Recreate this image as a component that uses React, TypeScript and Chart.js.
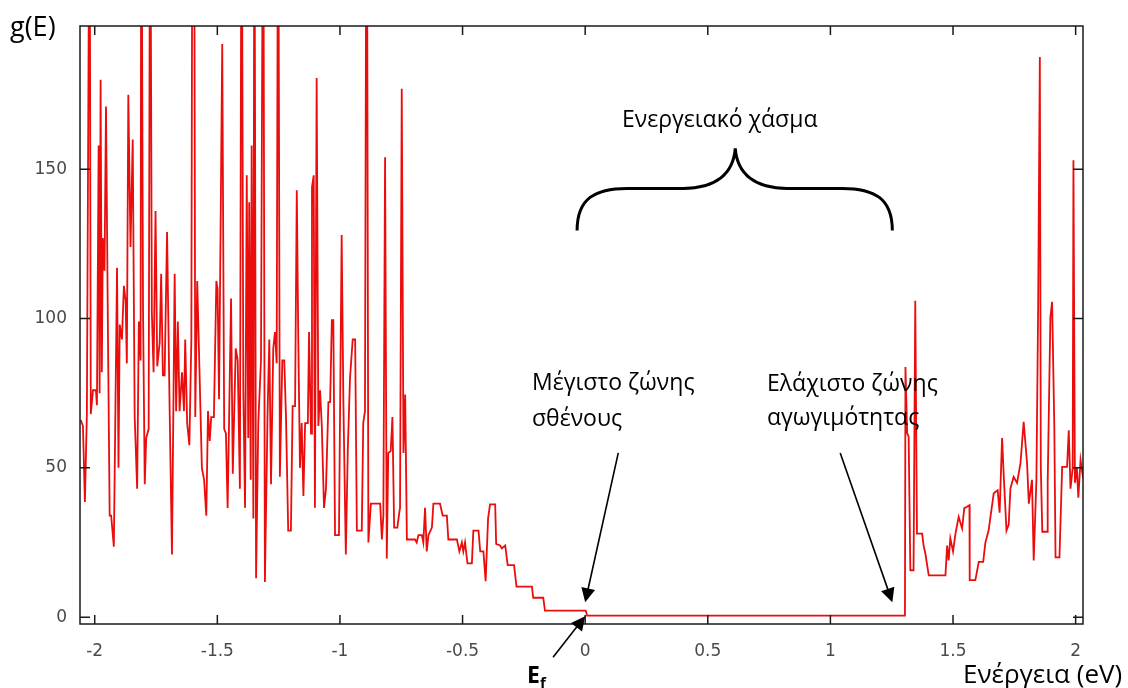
import React, { useEffect, useRef } from 'react';
import { Chart, registerables } from 'chart.js';

Chart.register(...registerables);

// Energy (eV) of each sampled point of the density of states
const energies = [
  -2.057, -2.048, -2.040, -2.032, -2.021, -2.016, -2.007, -1.995, -1.991, -1.984,
  -1.980, -1.976, -1.971, -1.967, -1.960, -1.954, -1.946, -1.939, -1.933, -1.922,
  -1.909, -1.903, -1.898, -1.889, -1.881, -1.874, -1.869, -1.863, -1.854, -1.845,
  -1.837, -1.827, -1.820, -1.813, -1.810, -1.803, -1.796, -1.790, -1.780, -1.774,
  -1.767, -1.760, -1.752, -1.745, -1.735, -1.729, -1.722, -1.715, -1.705, -1.694,
  -1.685, -1.674, -1.668, -1.661, -1.654, -1.644, -1.636, -1.631, -1.623, -1.614,
  -1.606, -1.601, -1.595, -1.590, -1.582, -1.572, -1.563, -1.554, -1.545, -1.538,
  -1.531, -1.525, -1.514, -1.504, -1.499, -1.493, -1.480, -1.472, -1.465, -1.458,
  -1.444, -1.437, -1.425, -1.417, -1.408, -1.401, -1.394, -1.387, -1.380, -1.374,
  -1.370, -1.364, -1.360, -1.353, -1.349, -1.342, -1.333, -1.322, -1.313, -1.306,
  -1.295, -1.288, -1.281, -1.272, -1.265, -1.258, -1.252, -1.245, -1.235, -1.227,
  -1.220, -1.211, -1.200, -1.193, -1.183, -1.176, -1.170, -1.163, -1.156, -1.149,
  -1.142, -1.131, -1.126, -1.118, -1.114, -1.107, -1.102, -1.095, -1.088, -1.081,
  -1.074, -1.065, -1.057, -1.047, -1.040, -1.033, -1.027, -1.020, -1.004, -0.993,
  -0.986, -0.976, -0.968, -0.959, -0.948, -0.938, -0.931, -0.911, -0.905, -0.898,
  -0.891, -0.884, -0.874, -0.836, -0.829, -0.823, -0.816, -0.809, -0.803, -0.793,
  -0.786, -0.779, -0.766, -0.758, -0.755, -0.748, -0.741, -0.734, -0.727, -0.694,
  -0.687, -0.680, -0.666, -0.660, -0.653, -0.646, -0.639, -0.625, -0.619, -0.592,
  -0.581, -0.564, -0.558, -0.523, -0.513, -0.503, -0.497, -0.490, -0.480, -0.462,
  -0.456, -0.435, -0.428, -0.415, -0.406, -0.396, -0.388, -0.367, -0.363, -0.347,
  -0.340, -0.326, -0.316, -0.290, -0.280, -0.217, -0.212, -0.171, -0.164, 0.002,
  0.008, 1.304,
  1.306, 1.313, 1.319, 1.326, 1.339, 1.346, 1.353, 1.374, 1.380, 1.387,
  1.401, 1.469, 1.476, 1.482, 1.489, 1.500, 1.510, 1.523, 1.537, 1.546,
  1.557, 1.567, 1.568, 1.591, 1.605, 1.623, 1.632, 1.645, 1.666, 1.682,
  1.690, 1.700, 1.707, 1.718, 1.727, 1.734, 1.747, 1.761, 1.775, 1.788,
  1.802, 1.809, 1.822, 1.829, 1.840, 1.847, 1.854, 1.858, 1.864, 1.884,
  1.886, 1.897, 1.904, 1.913, 1.918, 1.934, 1.945, 1.965, 1.972, 1.979,
  1.988, 1.991, 1.997, 2.005, 2.011, 2.020, 2.028, 2.036,
];

// g(E) at each energy above
const dos = [
  66, 64, 38.6, 68, 260, 68, 76, 76, 71, 158,
  75, 180, 82, 127, 116, 171, 95, 34, 34, 23.6,
  117, 50, 98, 93, 111, 106, 85, 175, 124, 160,
  67, 43, 99, 86, 270, 103, 44.5, 60, 63, 270,
  102, 82, 136, 84, 92, 115, 81, 81, 129, 67,
  21, 115, 69, 99, 69, 82, 69, 93, 65, 57.6,
  93, 280, 280, 67, 112.6, 80, 50, 46, 34, 69,
  59, 67, 67, 112.6, 110, 73, 192, 63, 61.5, 36.6,
  106.7, 48, 90, 86, 43, 270, 76, 36.6, 148, 60,
  139, 46, 158, 33, 270, 13, 65, 86, 270, 11.8,
  69, 93, 44.5, 90, 95.5, 85, 270, 47, 86, 86,
  67, 29, 29, 70.7, 70.7, 143, 94, 50, 65, 40.6,
  65, 65, 95.5, 61.5, 144, 148, 36.6, 180.6, 64, 76,
  64, 36.6, 43, 72, 72, 99.5, 99.5, 27.5, 27.5, 128,
  72, 21, 56, 80, 93, 93, 29, 29, 65, 69,
  290, 25, 38, 38, 26, 34, 154, 19.6, 55, 55.6,
  67, 30, 30, 35, 36.6, 177, 55, 74.6, 26, 26,
  25, 27.5, 27.5, 25, 36.6, 22, 27.5, 30, 38, 38,
  34, 34, 26, 26, 22, 25, 22, 25, 18, 18,
  29, 29, 22, 22, 12, 33, 37.8, 37.8, 24.5, 24,
  23, 24, 17.4, 17.4, 10.2, 10.2, 6.5, 6.5, 2.2, 2.2,
  0.5, 0.5,
  83.8, 61.6, 60.5, 15.7, 15.7, 106, 28, 28, 24, 21.4,
  14, 14, 24, 19, 26.4, 22, 28, 33.6, 29.7, 36.5,
  37, 37.5, 12.4, 12.4, 18.5, 18.5, 25, 29, 41.5, 42.5,
  35, 60, 47, 29, 31, 43, 47, 45, 51.5, 65.4,
  51.5, 38, 46, 19, 46, 103, 187.6, 50, 28.6, 28.6,
  45, 100.5, 105.6, 64, 20, 20, 50.3, 50.3, 62.6, 43,
  50, 153, 45, 50, 40, 52.6, 48, 52,
];

const xTicks = [-2, -1.5, -1, -0.5, 0, 0.5, 1, 1.5, 2];
const yTicks = [0, 50, 100, 150];
const xMin = -2.06;
const xMax = 2.03;
const yMin = -2.3;
const yMax = 198;

const yLabel = 'g(E)';
const xLabel = 'Ενέργεια (eV)';
const gapLabel = 'Ενεργειακό χάσμα';
const vbLabel = ['Μέγιστο ζώνης', 'σθένους'];
const cbLabel = ['Ελάχιστο ζώνης', 'αγωγιμότητας'];
const fermiLabel = ['E', 'f'];

const ANNOT_FONT = '"Open Sans", "Noto Sans", sans-serif';

function drawArrow(ctx: CanvasRenderingContext2D, x1: number, y1: number, x2: number, y2: number) {
  const ang = Math.atan2(y2 - y1, x2 - x1);
  const L = 14;
  const W = 7;
  ctx.beginPath();
  ctx.moveTo(x1, y1);
  ctx.lineTo(x2 - L * 0.8 * Math.cos(ang), y2 - L * 0.8 * Math.sin(ang));
  ctx.stroke();
  ctx.beginPath();
  ctx.moveTo(x2, y2);
  ctx.lineTo(x2 - L * Math.cos(ang) + W * Math.sin(ang), y2 - L * Math.sin(ang) - W * Math.cos(ang));
  ctx.lineTo(x2 - L * Math.cos(ang) - W * Math.sin(ang), y2 - L * Math.sin(ang) + W * Math.cos(ang));
  ctx.closePath();
  ctx.fill();
}

const decorPlugin = {
  id: 'decor',
  afterDraw(chart: any) {
    const { ctx, chartArea: a, scales } = chart;
    const xs = scales.x;
    const ys = scales.y;
    const P = (e: number, g: number) => [xs.getPixelForValue(e), ys.getPixelForValue(g)];
    ctx.save();
    // frame
    ctx.strokeStyle = '#1a1a1a';
    ctx.lineWidth = 1.5;
    ctx.strokeRect(a.left, a.top, a.right - a.left, a.bottom - a.top);
    // inward ticks, mirrored
    ctx.beginPath();
    xTicks.forEach((v) => {
      const px = xs.getPixelForValue(v);
      ctx.moveTo(px, a.bottom);
      ctx.lineTo(px, a.bottom - 9);
      ctx.moveTo(px, a.top);
      ctx.lineTo(px, a.top + 9);
    });
    yTicks.forEach((v) => {
      const py = ys.getPixelForValue(v);
      ctx.moveTo(a.left, py);
      ctx.lineTo(a.left + 10, py);
      ctx.moveTo(a.right, py);
      ctx.lineTo(a.right - 10, py);
    });
    ctx.stroke();

    // annotations
    ctx.fillStyle = '#000';
    ctx.strokeStyle = '#000';
    ctx.textBaseline = 'alphabetic';
    ctx.textAlign = 'left';
    ctx.font = `27px ${ANNOT_FONT}`;
    ctx.fillText(yLabel, 10, 36);
    ctx.font = `26px ${ANNOT_FONT}`;
    ctx.fillText(xLabel, 963, 683);
    ctx.font = `23px ${ANNOT_FONT}`;
    ctx.fillText(gapLabel, 622, 127);
    ctx.fillText(vbLabel[0], 532, 390);
    ctx.fillText(vbLabel[1], 532, 426);
    ctx.fillText(cbLabel[0], 767, 391);
    ctx.fillText(cbLabel[1], 767, 425);

    ctx.font = `bold 23px ${ANNOT_FONT}`;
    ctx.fillText(fermiLabel[0], 527, 683);
    const ew = ctx.measureText(fermiLabel[0]).width;
    ctx.font = `bold 15px ${ANNOT_FONT}`;
    ctx.fillText(fermiLabel[1], 527 + ew, 688);

    // arrows
    ctx.lineWidth = 1.6;
    let t = P(0.135, 55), h = P(0, 5);
    drawArrow(ctx, t[0], t[1], h[0], h[1]);
    t = P(-0.131, -13.4); h = P(0, 0.3);
    drawArrow(ctx, t[0], t[1], h[0], h[1]);
    t = P(1.04, 55); h = P(1.2525, 5);
    drawArrow(ctx, t[0], t[1], h[0], h[1]);

    // curly brace over the gap
    const [bx1, by1] = P(-0.033, 129.5);
    const [bx2] = P(1.2525, 129.5);
    const [bm, bTop] = P(0.612, 157);
    const [, bFlat] = P(0, 143.6);
    ctx.lineWidth = 3;
    ctx.beginPath();
    ctx.moveTo(bx1, by1);
    ctx.bezierCurveTo(bx1, bFlat + 10, bx1 + 18, bFlat, bx1 + 50, bFlat);
    ctx.lineTo(bm - 52, bFlat);
    ctx.bezierCurveTo(bm - 20, bFlat, bm - 2, bFlat - 14, bm, bTop);
    ctx.bezierCurveTo(bm + 2, bFlat - 14, bm + 20, bFlat, bm + 52, bFlat);
    ctx.lineTo(bx2 - 50, bFlat);
    ctx.bezierCurveTo(bx2 - 18, bFlat, bx2, bFlat + 10, bx2, by1);
    ctx.stroke();
    ctx.restore();
  },
};

export default function App() {
  const canvasRef = useRef<HTMLCanvasElement | null>(null);

  useEffect(() => {
    const canvas = canvasRef.current;
    if (!canvas) return;
    const points = energies.map((e, i) => ({ x: e, y: dos[i] }));
    const tickFont = { family: '"DejaVu Sans", Verdana, sans-serif', size: 17 };
    const chart = new Chart(canvas, {
      type: 'line',
      data: {
        datasets: [
          {
            data: points,
            borderColor: 'rgb(235, 12, 12)',
            borderWidth: 1.8,
            pointRadius: 0,
            tension: 0,
            fill: false,
            clip: 0,
          },
        ],
      },
      options: {
        animation: false,
        responsive: false,
        devicePixelRatio: 1,
        layout: { padding: { left: 0, top: 26, right: 45, bottom: 0 } },
        plugins: { legend: { display: false }, tooltip: { enabled: false } },
        scales: {
          x: {
            type: 'linear',
            min: xMin,
            max: xMax,
            grid: { display: false, drawTicks: false },
            border: { display: false },
            afterBuildTicks: (s: any) => {
              s.ticks = xTicks.map((v) => ({ value: v }));
            },
            afterFit: (s: any) => {
              s.height = 64;
            },
            ticks: {
              autoSkip: false,
              maxRotation: 0,
              padding: 17,
              color: '#4a4a4a',
              font: tickFont,
              callback: (v: any) => String(v),
            },
          },
          y: {
            type: 'linear',
            min: yMin,
            max: yMax,
            grid: { display: false, drawTicks: false },
            border: { display: false },
            afterBuildTicks: (s: any) => {
              s.ticks = yTicks.map((v) => ({ value: v }));
            },
            afterFit: (s: any) => {
              s.width = 80;
            },
            ticks: {
              autoSkip: false,
              padding: 13,
              color: '#4a4a4a',
              font: tickFont,
              callback: (v: any) => String(v),
            },
          },
        },
      },
      plugins: [decorPlugin],
    });
    return () => chart.destroy();
  }, []);

  return (
    <div style={{ position: 'absolute', left: 0, top: 0, width: 1128, height: 688, background: '#fff' }}>
      <canvas ref={canvasRef} width={1128} height={688} style={{ width: 1128, height: 688, display: 'block' }} />
    </div>
  );
}
